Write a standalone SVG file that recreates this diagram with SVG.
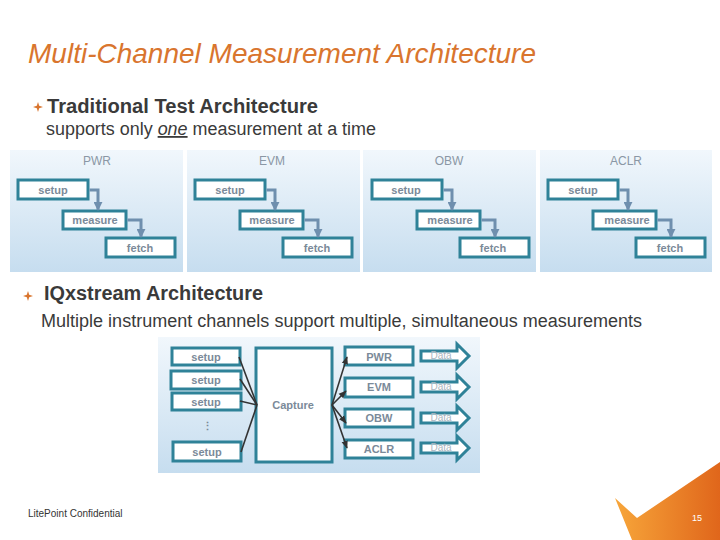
<svg xmlns="http://www.w3.org/2000/svg" width="720" height="540" viewBox="0 0 720 540">
<defs>
<linearGradient id="pg" x1="0" y1="0" x2="0" y2="1">
<stop offset="0" stop-color="#f1f7fc"/>
<stop offset="1" stop-color="#c6ddef"/>
</linearGradient>
<linearGradient id="og" x1="0" y1="0" x2="1" y2="0">
<stop offset="0" stop-color="#f7a63a"/>
<stop offset="1" stop-color="#e0661b"/>
</linearGradient>
<marker id="ah" viewBox="0 0 10 10" refX="9" refY="5" markerWidth="3" markerHeight="3" orient="auto">
<path d="M0,0 L10,5 L0,10 z" fill="#6f8fae"/>
</marker>
<marker id="ak" viewBox="0 0 10 10" refX="9" refY="5" markerWidth="5" markerHeight="5" orient="auto">
<path d="M0,1 L10,5 L0,9 z" fill="#333"/>
</marker>
<g id="star">
<path d="M0,-5 L1.2,-1.2 L5,0 L1.2,1.2 L0,5 L-1.2,1.2 L-5,0 L-1.2,-1.2 z" fill="#d9752e"/>
</g>
</defs>
<style>
.panel{fill:url(#pg)}
.box{fill:#fff;stroke:#2f8298;stroke-width:3}
.bt{font-family:"Liberation Sans",Arial,sans-serif;font-size:11px;font-weight:bold;fill:#7b8a99;text-anchor:middle}
.pl{font-family:"Liberation Sans",Arial,sans-serif;font-size:12px;fill:#8a97a5;text-anchor:middle}
.fl{fill:none;stroke:#6f8fae;stroke-width:3;marker-end:url(#ah)}
.ln{stroke:#333;stroke-width:1.6;fill:none}
.txt{font-family:"Liberation Sans",Arial,sans-serif;fill:#3a3a3a}
.data{fill:#fff;stroke:#2f8298;stroke-width:3}
.dt{font-family:"Liberation Sans",Arial,sans-serif;font-size:10px;fill:#aab5c0;text-anchor:middle}
</style>
<rect width="720" height="540" fill="#fff"/>
<text x="28" y="63" font-family="'Liberation Sans',Arial,sans-serif" font-size="28" font-style="italic" fill="#d9752e" textLength="508" lengthAdjust="spacingAndGlyphs">Multi-Channel Measurement Architecture</text>
<use href="#star" x="38" y="107"/>
<text class="txt" x="47" y="113" font-size="20" font-weight="bold" textLength="271" lengthAdjust="spacingAndGlyphs">Traditional Test Architecture</text>
<text class="txt" x="46" y="135" font-size="18" textLength="330" lengthAdjust="spacingAndGlyphs">supports only <tspan font-style="italic" text-decoration="underline">one</tspan> measurement at a time</text>

<g id="trad-pwr">
<rect class="panel" x="10" y="150" width="173" height="122"/>
<text class="pl" x="97" y="165">PWR</text>
<rect class="box" x="18" y="180" width="70" height="19"/><text class="bt" x="53" y="194">setup</text>
<rect class="box" x="63" y="211" width="63" height="18"/><text class="bt" x="95" y="224">measure</text>
<rect class="box" x="106" y="238" width="69" height="19"/><text class="bt" x="140" y="252">fetch</text>
</g>
<g id="trad-evm">
<rect class="panel" x="187" y="150" width="173" height="122"/>
<text class="pl" x="272" y="165">EVM</text>
<rect class="box" x="195" y="180" width="70" height="19"/><text class="bt" x="230" y="194">setup</text>
<rect class="box" x="240" y="211" width="63" height="18"/><text class="bt" x="272" y="224">measure</text>
<rect class="box" x="283" y="238" width="69" height="19"/><text class="bt" x="317" y="252">fetch</text>
</g>
<g id="trad-obw">
<rect class="panel" x="363" y="150" width="173" height="122"/>
<text class="pl" x="449" y="165">OBW</text>
<rect class="box" x="372" y="180" width="70" height="19"/><text class="bt" x="406" y="194">setup</text>
<rect class="box" x="417" y="211" width="63" height="18"/><text class="bt" x="450" y="224">measure</text>
<rect class="box" x="460" y="238" width="69" height="19"/><text class="bt" x="493" y="252">fetch</text>
</g>
<g id="trad-aclr">
<rect class="panel" x="540" y="150" width="172" height="122"/>
<text class="pl" x="626" y="165">ACLR</text>
<rect class="box" x="548" y="180" width="70" height="19"/><text class="bt" x="583" y="194">setup</text>
<rect class="box" x="593" y="211" width="63" height="18"/><text class="bt" x="627" y="224">measure</text>
<rect class="box" x="636" y="238" width="69" height="19"/><text class="bt" x="670" y="252">fetch</text>
</g>
<g id="trad-connectors">
<path class="fl" d="M89.5,190 H98 V210"/>
<path class="fl" d="M127.5,220 H141 V237"/>
<path class="fl" d="M266.5,190 H275 V210"/>
<path class="fl" d="M304.5,220 H318 V237"/>
<path class="fl" d="M443.5,190 H452 V210"/>
<path class="fl" d="M481.5,220 H495 V237"/>
<path class="fl" d="M619.5,190 H628 V210"/>
<path class="fl" d="M657.5,220 H671 V237"/>
</g>

<use href="#star" x="28" y="296"/>
<text class="txt" x="44" y="300" font-size="20" font-weight="bold" textLength="219" lengthAdjust="spacingAndGlyphs">IQxstream Architecture</text>
<text class="txt" x="41" y="327" font-size="18" textLength="601" lengthAdjust="spacingAndGlyphs">Multiple instrument channels support multiple, simultaneous measurements</text>

<rect class="panel" x="158" y="337" width="322" height="136"/>
<g id="setup1"><rect class="box" x="172" y="348" width="68" height="17"/><text class="bt" x="206" y="361">setup</text></g>
<g id="setup2"><rect class="box" x="171" y="371" width="70" height="18"/><text class="bt" x="206" y="384">setup</text></g>
<g id="setup3"><rect class="box" x="172" y="393" width="69" height="17"/><text class="bt" x="206" y="406">setup</text></g>
<text class="bt" x="207" y="430" font-weight="normal">⋮</text>
<g id="setup4"><rect class="box" x="173" y="442" width="68" height="19"/><text class="bt" x="207" y="456">setup</text></g>
<g id="capture"><rect class="box" x="256" y="348" width="76" height="114"/><text class="bt" x="293" y="409">Capture</text></g>
<g id="pwr"><rect class="box" x="345" y="347" width="68" height="18"/><text class="bt" x="379" y="361">PWR</text></g>
<g id="evm"><rect class="box" x="345" y="378" width="68" height="19"/><text class="bt" x="379" y="391">EVM</text></g>
<g id="obw"><rect class="box" x="345" y="409" width="68" height="18"/><text class="bt" x="379" y="422">OBW</text></g>
<g id="aclr"><rect class="box" x="345" y="440" width="68" height="18"/><text class="bt" x="379" y="453">ACLR</text></g>
<g id="data">
<path class="data" d="M421,351 H457 V344 L469,356 L457,368 V361 H421 z"/><text class="dt" x="441" y="359">Data</text>
<path class="data" d="M421,382 H457 V375 L469,387 L457,399 V392 H421 z"/><text class="dt" x="441" y="390">Data</text>
<path class="data" d="M421,413 H457 V406 L469,418 L457,430 V423 H421 z"/><text class="dt" x="441" y="421">Data</text>
<path class="data" d="M421,443 H457 V436 L469,448 L457,460 V453 H421 z"/><text class="dt" x="441" y="451">Data</text>
</g>
<g id="connectors">
<path class="ln" d="M239,357 L257,405"/>
<path class="ln" d="M240,379 L257,405"/>
<path class="ln" d="M240,401 L257,405"/>
<path class="ln" d="M241,452 L257,405"/>
<path class="ln" d="M332,405 L347,357" marker-end="url(#ak)"/>
<path class="ln" d="M332,405 L346,391" marker-end="url(#ak)"/>
<path class="ln" d="M332,405 L346,423" marker-end="url(#ak)"/>
<path class="ln" d="M332,405 L347,448" marker-end="url(#ak)"/>
</g>

<text x="28" y="517" font-family="'Liberation Sans',Arial,sans-serif" font-size="10" fill="#333">LitePoint Confidential</text>
<polygon points="615,498 637,518 720,462 720,540 632,540" fill="url(#og)"/>
<text x="697" y="521" font-family="'Liberation Sans',Arial,sans-serif" font-size="9" fill="#fff" text-anchor="middle">15</text>
</svg>
